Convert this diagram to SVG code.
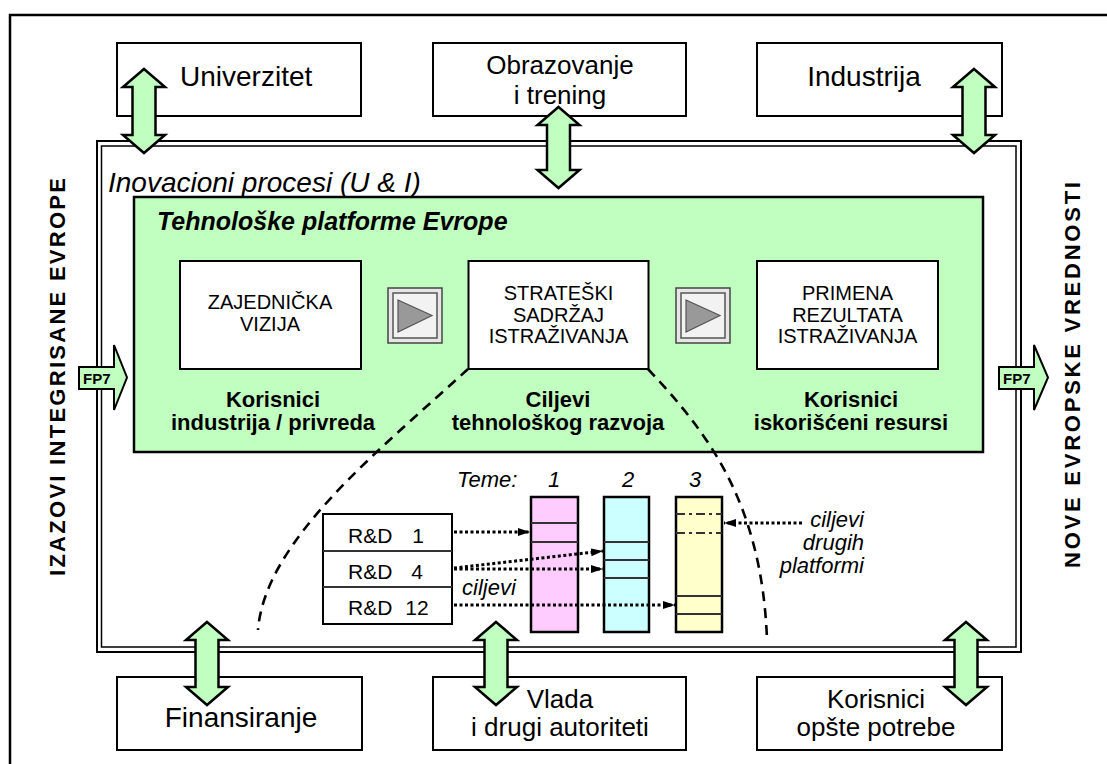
<svg xmlns="http://www.w3.org/2000/svg" width="1107" height="764" viewBox="0 0 1107 764">
<style>
text{font-family:"Liberation Sans",Arial,sans-serif;fill:#000}
.box{fill:#fff;stroke:#000;stroke-width:2}
.big{font-size:28px}
.two{font-size:26px}
.mid{font-size:20px}
.lbl{font-size:22px;font-weight:bold}
.it{font-size:22px;font-style:italic}
.c{text-anchor:middle}
.darr{fill:#C0FFC0;stroke:#000;stroke-width:2.5;stroke-linejoin:miter}
.dash{fill:none;stroke:#000;stroke-width:2.6;stroke-dasharray:10 7}
.dot{fill:none;stroke:#000;stroke-width:3;stroke-dasharray:3 2.5;marker-end:url(#ah)}
.col{stroke:#000;stroke-width:2.5}
.div{stroke:#333;stroke-width:2}
.vert{font-size:22px;font-weight:bold}
</style>
<defs>
<marker id="ah" viewBox="0 0 12 10" refX="12" refY="5" markerWidth="12" markerHeight="10" markerUnits="userSpaceOnUse" orient="auto">
<path d="M0,1 L12,5 L0,9 Z" fill="#000"/>
</marker>
<g id="play">
<rect x="0" y="0" width="54" height="55" fill="#e6e6e6" stroke="#444" stroke-width="1.5"/>
<rect x="5" y="5" width="44" height="45" fill="#f2f2f2" stroke="#555" stroke-width="1.5"/>
<path d="M10,12 L44,27.5 L10,44 Z" fill="#999" stroke="#555" stroke-width="1.2"/>
</g>
</defs>
<rect width="1107" height="764" fill="#fff"/>
<path d="M10,764 L10,15 L1107,15" fill="none" stroke="#000" stroke-width="2.5"/>

<g id="vert-left"><text class="vert c" transform="translate(65,377) rotate(-90)" textLength="398" lengthAdjust="spacing">IZAZOVI  INTEGRISANE  EVROPE</text></g>
<g id="vert-right"><text class="vert c" transform="translate(1080,375) rotate(-90)" textLength="386" lengthAdjust="spacing">NOVE  EVROPSKE  VREDNOSTI</text></g>

<g id="univerzitet"><rect class="box" x="117" y="43" width="244" height="73"/><text class="big" x="180" y="86">Univerzitet</text></g>
<g id="obrazovanje"><rect class="box" x="433" y="43" width="253" height="73"/><text class="two c" x="560" y="74">Obrazovanje</text><text class="two c" x="560" y="104">i trening</text></g>
<g id="industrija"><rect class="box" x="757" y="43" width="245" height="73"/><text class="big c" x="864" y="86">Industrija</text></g>

<g id="finansiranje"><rect class="box" x="117" y="677" width="245" height="73"/><text class="big c" x="241" y="727">Finansiranje</text></g>
<g id="vlada"><rect class="box" x="433" y="677" width="253" height="73"/><text class="two c" x="560" y="708">Vlada</text><text class="two c" x="560" y="736">i drugi autoriteti</text></g>
<g id="korisnici-opste"><rect class="box" x="757" y="677" width="245" height="73"/><text class="two c" x="876" y="708">Korisnici</text><text class="two c" x="876" y="736">opšte potrebe</text></g>

<g id="inovacioni">
<rect x="97" y="141" width="924" height="511" fill="#fff" stroke="#000" stroke-width="2"/>
<rect x="101.5" y="146" width="914.5" height="501" fill="none" stroke="#000" stroke-width="1.5"/>
<text x="108" y="192" style="font-size:28px;font-style:italic">Inovacioni procesi (U &amp; I)</text>
</g>

<g id="platforme">
<rect x="134" y="197" width="849" height="255" fill="#C0FFC0" stroke="#000" stroke-width="2.5"/>
<text x="157" y="230" style="font-size:25px;font-weight:bold;font-style:italic">Tehnološke platforme Evrope</text>
</g>

<g id="vizija"><rect class="box" x="180" y="261" width="181" height="108"/><text class="mid c" x="270" y="309">ZAJEDNIČKA</text><text class="mid c" x="270" y="331">VIZIJA</text>
<text class="lbl c" x="273" y="407">Korisnici</text><text class="lbl c" x="273" y="430">industrija / privreda</text></g>
<g id="strateski"><rect class="box" x="468.5" y="261" width="180" height="108"/><text class="mid c" x="558.5" y="300">STRATEŠKI</text><text class="mid c" x="558.5" y="322">SADRŽAJ</text><text class="mid c" x="558.5" y="343">ISTRAŽIVANJA</text>
<text class="lbl c" x="558" y="407">Ciljevi</text><text class="lbl c" x="558" y="430">tehnološkog razvoja</text></g>
<g id="primena"><rect class="box" x="757" y="261" width="181" height="108"/><text class="mid c" x="847.5" y="300">PRIMENA</text><text class="mid c" x="847.5" y="322">REZULTATA</text><text class="mid c" x="847.5" y="343">ISTRAŽIVANJA</text>
<text class="lbl c" x="851" y="407">Korisnici</text><text class="lbl c" x="851" y="430">iskorišćeni resursi</text></g>

<g id="play1"><use href="#play" x="388" y="288"/></g>
<g id="play2"><use href="#play" x="676" y="288"/></g>

<g id="fp7-left"><path d="M79,367 L114,367 L114,345 L127,377.5 L114,410 L114,389 L79,389 Z" fill="#C0FFC0" stroke="#000" stroke-width="2"/><text x="83" y="384" style="font-size:15px;font-weight:bold">FP7</text></g>
<g id="fp7-right"><path d="M999,367 L1034,367 L1034,345 L1048,377.5 L1034,410 L1034,389 L999,389 Z" fill="#C0FFC0" stroke="#000" stroke-width="2"/><text x="1003" y="384" style="font-size:15px;font-weight:bold">FP7</text></g>

<g id="rd-table">
<rect class="box" x="323" y="514" width="129" height="110"/>
<line class="div" x1="323" y1="551" x2="452" y2="551" stroke="#000"/>
<line class="div" x1="323" y1="587" x2="452" y2="587" stroke="#000"/>
<text x="348" y="543" style="font-size:21px">R&amp;D</text><text class="c" x="418" y="543" style="font-size:21px">1</text>
<text x="348" y="579" style="font-size:21px">R&amp;D</text><text class="c" x="417" y="579" style="font-size:21px">4</text>
<text x="348" y="615" style="font-size:21px">R&amp;D</text><text class="c" x="417" y="615" style="font-size:21px">12</text>
</g>

<g id="teme">
<text class="it" x="457" y="487">Teme:</text>
<text class="it c" x="554" y="487">1</text>
<text class="it c" x="628" y="487">2</text>
<text class="it c" x="695" y="487">3</text>
</g>
<g id="tema1"><rect class="col" x="531" y="497" width="47" height="135" fill="#FFCCFF"/>
<line class="div" x1="531" y1="523" x2="578" y2="523"/><line class="div" x1="531" y1="542" x2="578" y2="542"/></g>
<g id="tema2"><rect class="col" x="604" y="497" width="45" height="135" fill="#CCFFFF"/>
<line class="div" x1="604" y1="542" x2="649" y2="542"/><line class="div" x1="604" y1="560" x2="649" y2="560"/><line class="div" x1="604" y1="578" x2="649" y2="578"/></g>
<g id="tema3"><rect class="col" x="676" y="497" width="46" height="135" fill="#FFFFCC"/>
<line x1="676" y1="514" x2="722" y2="514" stroke="#333" stroke-width="2" stroke-dasharray="9 4 3 4"/>
<line x1="676" y1="533" x2="722" y2="533" stroke="#333" stroke-width="2" stroke-dasharray="9 4 3 4"/>
<line class="div" x1="676" y1="596" x2="722" y2="596"/><line class="div" x1="676" y1="614" x2="722" y2="614"/></g>

<g id="labels">
<text class="it" x="462" y="595">ciljevi</text>
<text class="it" x="864" y="527" text-anchor="end">ciljevi</text>
<text class="it" x="864" y="550" text-anchor="end">drugih</text>
<text class="it" x="864" y="573" text-anchor="end">platformi</text>
</g>

<g id="connectors">
<path class="dash" d="M468,369 C380,450 265,540 258,630"/>
<path class="dash" d="M648,369 C705,430 762,500 767,640"/>
<path class="dot" d="M454,532 L530,532"/>
<path class="dot" d="M454,568 L603,551"/>
<path class="dot" d="M454,569 L603,569"/>
<path class="dot" d="M454,605 L675,605"/>
<path class="dot" d="M802,523 L724,523"/>
<path class="darr" d="M144,69 L165,87 L155.5,87 L155.5,135 L165,135 L144,153 L123,135 L132.5,135 L132.5,87 L123,87 Z"/>
<path class="darr" d="M558.5,107 L579.5,125 L570,125 L570,170 L579.5,170 L558.5,188 L537.5,170 L547,170 L547,125 L537.5,125 Z"/>
<path class="darr" d="M974,69 L995,87 L985.5,87 L985.5,135 L995,135 L974,153 L953,135 L962.5,135 L962.5,87 L953,87 Z"/>
<path class="darr" d="M207,622 L228,640 L218.5,640 L218.5,687 L228,687 L207,705 L186,687 L195.5,687 L195.5,640 L186,640 Z"/>
<path class="darr" d="M496,622 L517,640 L507.5,640 L507.5,687 L517,687 L496,705 L475,687 L484.5,687 L484.5,640 L475,640 Z"/>
<path class="darr" d="M966,622 L987,640 L977.5,640 L977.5,687 L987,687 L966,705 L945,687 L954.5,687 L954.5,640 L945,640 Z"/>
</g>
</svg>
